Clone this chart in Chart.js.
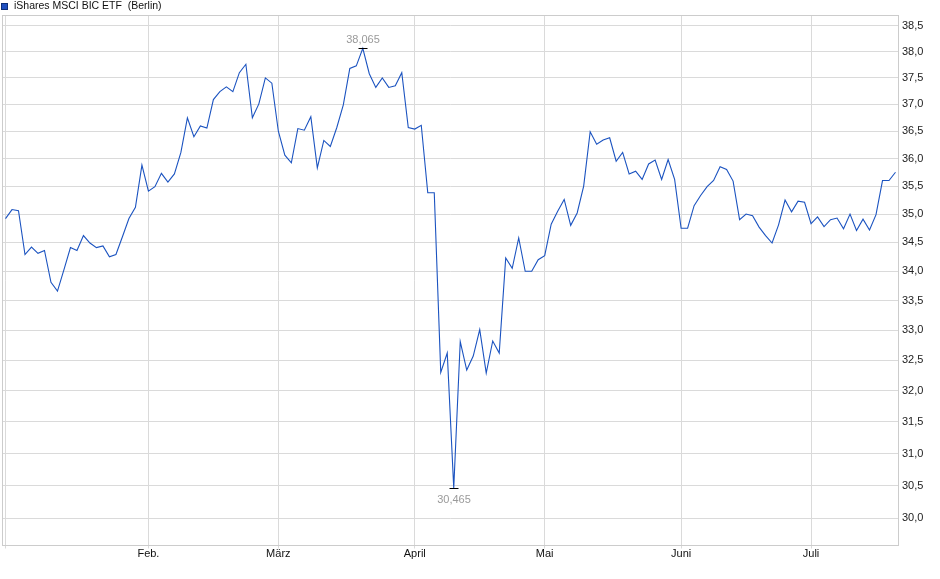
<!DOCTYPE html>
<html>
<head>
<meta charset="utf-8">
<title>iShares MSCI BIC ETF (Berlin)</title>
<script src="https://cdn.jsdelivr.net/npm/chart.js@4/dist/chart.umd.min.js"></script>
<style>
    html, body { margin: 0; padding: 0; background: #fff; }
    #chart { display: block; }
</style>
</head>
<body>
<canvas id="chart" width="940" height="579"></canvas>
<script>
// Series name shown in the top-left legend
const seriesName = 'iShares MSCI BIC ETF  (Berlin)';

// Daily closing prices, one per trading day (Jan .. mid July)
const prices = [
    34.92, 35.08, 35.06, 34.29, 34.42, 34.31, 34.36, 33.81, 33.66, 34.03,
    34.41, 34.36, 34.62, 34.49, 34.41, 34.44, 34.25, 34.29, 34.60, 34.92,
    35.12, 35.88, 35.41, 35.49, 35.73, 35.57, 35.72, 36.11, 36.75, 36.40,
    36.60, 36.56, 37.09, 37.24, 37.33, 37.24, 37.60, 37.76, 36.75, 37.01,
    37.50, 37.40, 36.50, 36.06, 35.92, 36.55, 36.52, 36.77, 35.83, 36.33,
    36.22, 36.57, 36.99, 37.68, 37.73, 38.065, 37.58, 37.32, 37.50, 37.32,
    37.35, 37.60, 36.57, 36.54, 36.61, 35.38, 35.38, 32.30, 32.62, 30.465,
    32.81, 32.34, 32.57, 33.01, 32.29, 32.82, 32.62, 34.23, 34.05, 34.58,
    34.00, 34.00, 34.20, 34.27, 34.82, 35.05, 35.26, 34.80, 35.02, 35.50,
    36.49, 36.26, 36.34, 36.38, 35.95, 36.11, 35.72, 35.77, 35.62, 35.90,
    35.97, 35.62, 35.98, 35.62, 34.75, 34.75, 35.15, 35.33, 35.49, 35.60,
    35.85, 35.80, 35.59, 34.90, 35.00, 34.97, 34.77, 34.62, 34.49, 34.81,
    35.25, 35.04, 35.23, 35.21, 34.83, 34.95, 34.78, 34.90, 34.93, 34.74,
    35.00, 34.71, 34.91, 34.72, 34.99, 35.60, 35.60, 35.75
];

// First trading day of each month (index into prices) and its label
const monthStarts = [0, 22, 42, 63, 83, 104, 124];
const monthLabels = ['', 'Feb.', 'März', 'April', 'Mai', 'Juni', 'Juli'];

// Price axis (logarithmic)
const priceTicks = [30.0, 30.5, 31.0, 31.5, 32.0, 32.5, 33.0, 33.5, 34.0,
                    34.5, 35.0, 35.5, 36.0, 36.5, 37.0, 37.5, 38.0, 38.5];
const priceMin = 29.589;
const priceMax = 38.705;

const FONT = "'Liberation Sans', Arial, Helvetica, sans-serif";
const LINE_COLOR = '#1b53c0';
const GRID_COLOR = '#dadada';
const FRAME_COLOR = '#cccccc';

function formatDe(v, digits) {
    return v.toFixed(digits).replace('.', ',');
}

// Frame around the plot area
const framePlugin = {
    id: 'frame',
    beforeDatasetsDraw(chart) {
        const { ctx, chartArea: a } = chart;
        ctx.save();
        ctx.strokeStyle = FRAME_COLOR;
        ctx.lineWidth = 1;
        ctx.strokeRect(a.left, a.top, a.right - a.left, a.bottom - a.top);
        ctx.restore();
    }
};

// Legend box + series name in the top-left corner
const legendPlugin = {
    id: 'cornerLegend',
    afterDraw(chart) {
        const ctx = chart.ctx;
        ctx.save();
        ctx.fillStyle = '#1f4fc0';
        ctx.fillRect(1.5, 3.5, 6, 6);
        ctx.strokeStyle = '#0e2f78';
        ctx.lineWidth = 1;
        ctx.strokeRect(1.5, 3.5, 6, 6);
        ctx.fillStyle = '#111';
        ctx.font = '10.5px ' + FONT;
        ctx.textBaseline = 'middle';
        ctx.textAlign = 'left';
        ctx.fillText(seriesName, 14, 6.5);
        ctx.restore();
    }
};

// High / low markers with their values
const extremesPlugin = {
    id: 'extremes',
    afterDatasetsDraw(chart) {
        const { ctx, scales: { x, y } } = chart;
        const hiVal = Math.max(...prices);
        const loVal = Math.min(...prices);
        const marks = [
            { i: prices.indexOf(hiVal), v: hiVal, dy: -8.5 },
            { i: prices.indexOf(loVal), v: loVal, dy: 11 }
        ];
        ctx.save();
        ctx.font = '11px ' + FONT;
        ctx.textAlign = 'center';
        ctx.textBaseline = 'middle';
        marks.forEach(m => {
            const px = Math.round(x.getPixelForValue(m.i));
            const py = Math.round(y.getPixelForValue(m.v)) + 0.5;
            ctx.strokeStyle = '#000';
            ctx.lineWidth = 1;
            ctx.beginPath();
            ctx.moveTo(px - 4.5, py);
            ctx.lineTo(px + 4.5, py);
            ctx.stroke();
            ctx.fillStyle = '#9a9a9a';
            ctx.fillText(formatDe(m.v, 3), px, py + m.dy);
        });
        ctx.restore();
    }
};

const ctx = document.getElementById('chart').getContext('2d');
new Chart(ctx, {
    type: 'line',
    data: {
        datasets: [{
            label: seriesName,
            data: prices.map((v, i) => ({ x: i, y: v })),
            borderColor: LINE_COLOR,
            borderWidth: 1.1,
            pointRadius: 0,
            tension: 0,
            fill: false
        }]
    },
    options: {
        responsive: false,
        animation: false,
        layout: { padding: { left: 2.5, top: 15.5, right: 0, bottom: 0 } },
        plugins: {
            legend: { display: false },
            tooltip: { enabled: false }
        },
        scales: {
            x: {
                type: 'linear',
                min: -0.4618,
                max: prices.length - 1 + 0.4618,
                border: { display: false },
                grid: { color: GRID_COLOR, drawTicks: true, tickLength: 3, tickColor: GRID_COLOR },
                ticks: {
                    autoSkip: false,
                    maxRotation: 0,
                    padding: -1.5,
                    color: '#111',
                    font: { family: FONT, size: 11 },
                    callback: (value, index) => monthLabels[index]
                },
                afterBuildTicks: scale => {
                    scale.ticks = monthStarts.map(v => ({ value: v }));
                },
                afterFit: scale => { scale.height = 33.5; }
            },
            y: {
                type: 'logarithmic',
                position: 'right',
                min: priceMin,
                max: priceMax,
                border: { display: false },
                grid: { color: GRID_COLOR, drawTicks: false },
                ticks: {
                    padding: 3.5,
                    color: '#222',
                    font: { family: FONT, size: 11 },
                    callback: value => formatDe(value, 1)
                },
                afterBuildTicks: scale => {
                    scale.ticks = priceTicks.map(v => ({ value: v }));
                },
                afterFit: scale => { scale.width = 41.5; }
            }
        }
    },
    plugins: [framePlugin, extremesPlugin, legendPlugin]
});
</script>
</body>
</html>
